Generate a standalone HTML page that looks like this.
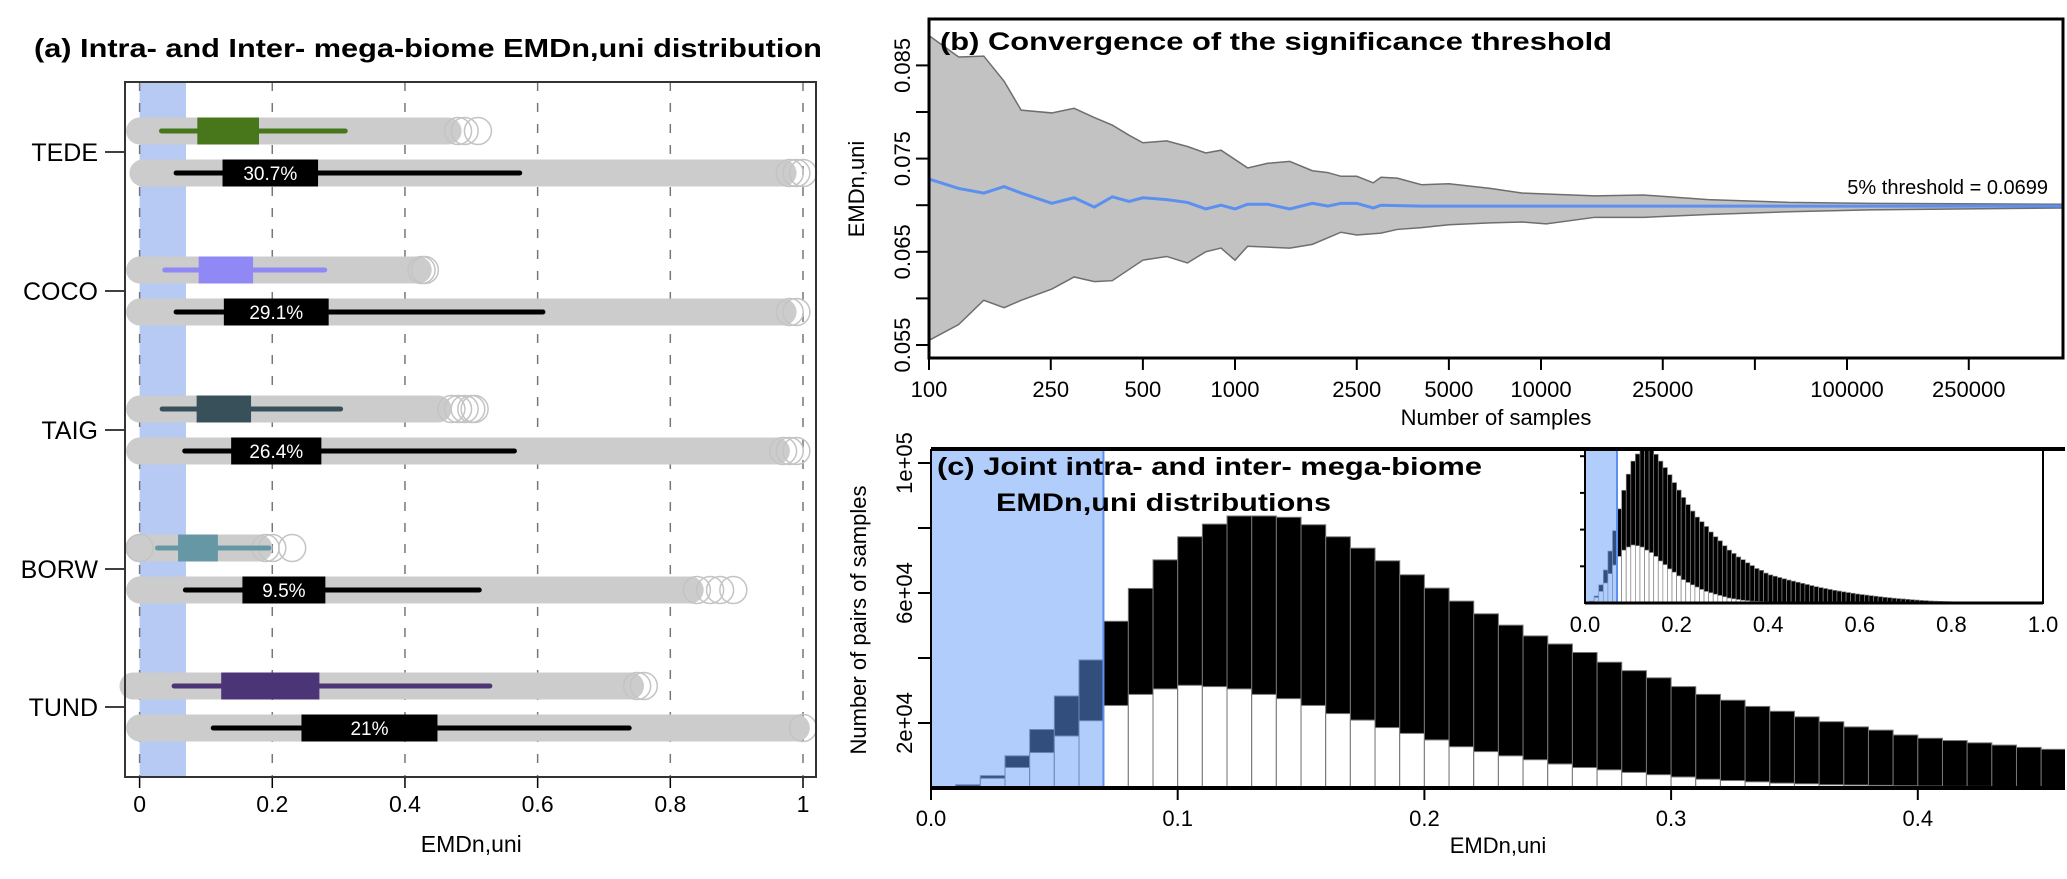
<!DOCTYPE html>
<html><head><meta charset="utf-8"><style>
html,body{margin:0;padding:0;background:#fff;}
svg{display:block;font-family:"Liberation Sans",Arial,sans-serif;}
</style></head><body>
<svg id="fig" width="2067" height="879" viewBox="0 0 2067 879" xmlns="http://www.w3.org/2000/svg">
<defs>
<clipPath id="clipA"><rect x="0" y="0" width="822" height="879"/></clipPath>
<clipPath id="clipB"><rect x="929" y="19" width="1134" height="339"/></clipPath>
<clipPath id="clipC"><rect x="931" y="449" width="1134" height="339"/></clipPath>
<clipPath id="clipI"><rect x="1585" y="450" width="458" height="153"/></clipPath>
</defs>
<g id="panelA"></g>
<g id="panelB"></g>
<g id="panelC"></g>
</svg>
<script>
// ---------- Panel A data ----------
const biomes = ["TEDE","COCO","TAIG","BORW","TUND"];
const intraWhisker = [[0.033,0.310],[0.038,0.279],[0.034,0.303],[0.027,0.195],[0.052,0.528]];
const intraBox = [[0.087,0.180],[0.089,0.171],[0.086,0.168],[0.058,0.118],[0.123,0.271]];
const intraRange = [[0.0,0.465],[0.0,0.42],[0.0,0.45],[0.0,0.18],[-0.01,0.74]];
const intraOutliers = [[0.48,0.49,0.51],[0.425,0.43],[0.47,0.48,0.49,0.5,0.505],[0.0,0.19,0.2,0.23],[0.75,0.76]];
const interWhisker = [[0.055,0.573],[0.055,0.608],[0.068,0.565],[0.069,0.512],[0.111,0.738]];
const interBox = [[0.125,0.269],[0.127,0.285],[0.138,0.274],[0.155,0.280],[0.244,0.449]];
const interRange = [[0.005,0.97],[0.0,0.97],[0.0,0.96],[0.0,0.83],[0.0,0.99]];
const interOutliers = [[0.98,0.99,1.0],[0.98,0.99],[0.97,0.98,0.99],[0.84,0.86,0.875,0.895],[1.0]];
const pctLabels = ["30.7%","29.1%","26.4%","9.5%","21%"];
const biomeColors = ["#47761b","#8f88f5","#37505a","#6598a4","#4c3576"];
const xTicksA = [0,0.2,0.4,0.6,0.8,1];
const xTickLabelsA = ["0","0.2","0.4","0.6","0.8","1"];
const thresholdA = 0.0699;

// ---------- Panel B data ----------
const meanN = [100,125,151,176,200,252,298,347,397,451,500,598,699,802,900,1000,1100,1280,1510,1790,2010,2220,2500,2830,3000,4070,5690,10400,19150,35200,118600,509000];
const meanV = [0.0728,0.0718,0.0713,0.0720,0.0713,0.0702,0.0708,0.0698,0.0709,0.0704,0.0708,0.0706,0.0703,0.0696,0.0700,0.0696,0.0701,0.0701,0.0696,0.0702,0.0699,0.0702,0.0702,0.0697,0.0700,0.0699,0.0699,0.0699,0.0699,0.0699,0.0699,0.0699];
const upperN = [100,125,151,176,200,252,298,347,397,451,500,598,699,802,900,1100,1280,1510,1790,2010,2220,2500,2830,3000,3390,4070,5000,6820,8700,10400,15000,21600,35200,64600,118600,509000];
const upperV = [0.0882,0.0859,0.0860,0.0833,0.0802,0.0799,0.0804,0.0794,0.0786,0.0775,0.0767,0.0769,0.0763,0.0756,0.0759,0.0740,0.0745,0.0747,0.0737,0.0735,0.0731,0.0731,0.0724,0.0730,0.0729,0.0722,0.0723,0.0718,0.0713,0.0712,0.0710,0.0711,0.0706,0.0703,0.0702,0.0701];
const lowerN = [100,125,151,176,200,252,298,347,397,500,598,699,802,900,1000,1100,1510,1790,2220,2500,3000,3390,4070,5000,6820,8700,10400,15000,21600,35200,64600,118600,509000];
const lowerV = [0.0555,0.0572,0.0598,0.0590,0.0598,0.0610,0.0623,0.0618,0.0619,0.0641,0.0645,0.0638,0.0650,0.0654,0.0641,0.0656,0.0654,0.0658,0.0671,0.0668,0.0670,0.0674,0.0676,0.0679,0.0681,0.0682,0.0680,0.0687,0.0687,0.0690,0.0693,0.0695,0.0697];
const xTicksB = [100,250,500,1000,2500,5000,10000,25000,50000,100000,250000];
const xTickLabelsB = ["100","250","500","1000","2500","5000","10000","25000","","100000","250000"];
const yTicksB = [0.055,0.060,0.065,0.070,0.075,0.080,0.085];
const yTickLabelsB = ["0.055","","0.065","","0.075","","0.085"];
const thresholdLabel = "5% threshold = 0.0699";

// ---------- Panel C data ----------
const binWidth = 0.01;
const totalCounts = [200,1000,3800,9900,18000,28300,39400,51300,61400,70200,77300,81200,83700,83700,83300,81000,77300,73800,69900,65600,61500,57500,53600,50100,46800,44300,41700,38700,36100,33900,31200,28800,27000,25100,23600,21900,20400,18800,17800,16300,15300,14600,13900,13200,12500,11900];
const intraCounts = [100,500,3000,6300,10900,16000,20700,25400,28800,30500,31600,31200,30500,28800,27500,25400,22900,20900,18600,16800,14800,12700,11200,9900,8700,7400,6300,5600,4800,4100,3400,2700,2300,1900,1500,1300,1000,900,800,700,600,500,500,400,400,300];
const tailTotal = [11300,10700,10100,9500,8900,8400,7900,7400,6900,6500,6100,5700,5300,4900,4600,4300,4000,3700,3400,3100,2900,2600,2400,2200,2000,1800,1600,1400,1300,1100,1000,900,800,700,600,500,400,350,300,250,200,150,120,100,80,60,50,40,30,20,15,10,5,0];
const tailIntra = [300,250,250,200,200,150,150,120,100,100,80,80,70,60,60,50,50,40,40,30,30,30,20,20,20,20,10,10,10,10,10,10,5,5,5,5,5,5,0,0,0,0,0,0,0,0,0,0,0,0,0,0,0,0];
const xTicksC = [0,0.1,0.2,0.3,0.4];
const xTickLabelsC = ["0.0","0.1","0.2","0.3","0.4"];
const yTicksC = [20000,40000,60000,80000,100000];
const yTickLabelsC = ["2e+04","","6e+04","","1e+05"];
const xTicksI = [0,0.2,0.4,0.6,0.8,1.0];
const xTickLabelsI = ["0.0","0.2","0.4","0.6","0.8","1.0"];
const yTicksI = [20000,40000,60000,80000];
const thresholdC = 0.0699;

// ---------- helpers ----------
const NS = "http://www.w3.org/2000/svg";
function mk(parent, tag, attrs, text){
  const e = document.createElementNS(NS, tag);
  for (const k in attrs) e.setAttribute(k, attrs[k]);
  if (text !== undefined) e.textContent = text;
  parent.appendChild(e);
  return e;
}

// ================= PANEL A =================
(function(){
  const g = document.getElementById('panelA');
  const L=125, R=816, T=82, B=777;
  const xa = v => 139.6 + v*663.4;
  const rowY = [152,291,430,569,707];
  let e;
  e = mk(g,'text',{x:34,y:57,'font-size':26,'font-weight':'bold',textLength:805,lengthAdjust:'spacingAndGlyphs','clip-path':'url(#clipA)'},"(a) Intra- and Inter- mega-biome EMDn,uni distributions");
  
  
  e = mk(g,'rect',{x:xa(0),y:T,width:xa(thresholdA)-xa(0),height:B-T,fill:'#b6caf3'});
  
  
  xTicksA.forEach((t,i)=>{
    e = mk(g,'line',{x1:xa(t),x2:xa(t),y1:T,y2:B,stroke:'#777','stroke-width':1.5,'stroke-dasharray':'9,12'});
    
    
    e = mk(g,'line',{x1:xa(t),x2:xa(t),y1:B,y2:B+11,stroke:'#000','stroke-width':1.5});
    
    
    e = mk(g,'text',{x:xa(t),y:812,'font-size':23,'text-anchor':'middle'},xTickLabelsA[i]);
    
    
  });
  const r = 13.5;
  function drawRow(y, range, outl, wh, bx, col, label){
    e = mk(g,'rect',{x:xa(range[0])-r,y:y-r,width:xa(range[1])-xa(range[0])+2*r,height:2*r,rx:r,fill:'#cccccc'});
    
    
    outl.forEach(o=>{
      e = mk(g,'circle',{cx:xa(o),cy:y,r:r,fill:'none',stroke:'#c4c4c4','stroke-width':1.5});
      
      
    });
    e = mk(g,'line',{x1:xa(wh[0]),x2:xa(wh[1]),y1:y,y2:y,stroke:col,'stroke-width':5,'stroke-linecap':'round'});
    
    
    e = mk(g,'rect',{x:xa(bx[0]),y:y-r,width:xa(bx[1])-xa(bx[0]),height:2*r,fill:col});
    
    
    if (label){
      e = mk(g,'text',{x:(xa(bx[0])+xa(bx[1]))/2,y:y+7,'font-size':19,fill:'#fff','text-anchor':'middle'},label);
      
      
    }
  }
  biomes.forEach((b,i)=>{
    const c = rowY[i];
    drawRow(c-21, intraRange[i], intraOutliers[i], intraWhisker[i], intraBox[i], biomeColors[i], null);
    drawRow(c+21, interRange[i], interOutliers[i], interWhisker[i], interBox[i], '#000', pctLabels[i]);
    e = mk(g,'line',{x1:105,x2:L,y1:c,y2:c,stroke:'#000','stroke-width':1.5});
    
    
    e = mk(g,'text',{x:98,y:c+9,'font-size':25,'text-anchor':'end'},b);
    
    
  });
  e = mk(g,'rect',{x:L,y:T,width:R-L,height:B-T,fill:'none',stroke:'#333','stroke-width':2});
  
  
  e = mk(g,'text',{x:xa(0.5),y:852,'font-size':23,'text-anchor':'middle'},"EMDn,uni");
  
  
})();

// ================= PANEL B =================
(function(){
  const g = document.getElementById('panelB');
  const L=929, R=2063, T=19, B=358;
  const xb = n => 929 + (Math.log10(n)-2)*306;
  const yb = v => 345 - (v-0.055)*9320;
  let e;
  let pts = upperN.map((n,i)=>xb(n)+','+yb(upperV[i]));
  for (let i=lowerN.length-1;i>=0;i--) pts.push(xb(lowerN[i])+','+yb(lowerV[i]));
  e = mk(g,'polygon',{points:pts.join(' '),fill:'#c2c2c2',stroke:'#6e6e6e','stroke-width':1.5,'clip-path':'url(#clipB)'});
  
  
  e = mk(g,'polyline',{points:meanN.map((n,i)=>xb(n)+','+yb(meanV[i])).join(' '),fill:'none',stroke:'#5b8ff0','stroke-width':3,'clip-path':'url(#clipB)'});
  
  
  e = mk(g,'rect',{x:L,y:T,width:R-L,height:B-T,fill:'none',stroke:'#000','stroke-width':3});
  
  
  xTicksB.forEach((t,i)=>{
    e = mk(g,'line',{x1:xb(t),x2:xb(t),y1:B,y2:B+12,stroke:'#000','stroke-width':2});
    
    
    if (xTickLabelsB[i]){
      e = mk(g,'text',{x:xb(t),y:397,'font-size':22,'text-anchor':'middle'},xTickLabelsB[i]);
      
      
    }
  });
  yTicksB.forEach((t,i)=>{
    e = mk(g,'line',{x1:L-13,x2:L,y1:yb(t),y2:yb(t),stroke:'#000','stroke-width':2});
    
    
    if (yTickLabelsB[i]){
      e = mk(g,'text',{x:0,y:0,'font-size':22,'text-anchor':'middle',transform:'translate(910,'+yb(t)+') rotate(-90)'},yTickLabelsB[i]);
      
      
    }
  });
  e = mk(g,'text',{x:940,y:50,'font-size':25,'font-weight':'bold',textLength:672,lengthAdjust:'spacingAndGlyphs'},"(b) Convergence of the significance threshold");
  
  
  e = mk(g,'text',{x:2048,y:194,'font-size':20,'text-anchor':'end'},thresholdLabel);
  
  
  e = mk(g,'text',{x:1496,y:425,'font-size':22,'text-anchor':'middle'},"Number of samples");
  
  
  e = mk(g,'text',{x:0,y:0,'font-size':22,'text-anchor':'middle',transform:'translate(864,189) rotate(-90)'},"EMDn,uni");
  
  
})();

// ================= PANEL C =================
(function(){
  const g = document.getElementById('panelC');
  const L=931, R=2065, T=449, B=788;
  const xc = v => 931 + v*2467;
  const yc = v => 788 - v*130/40000;
  let e;
  const gb = mk(g,'g',{'clip-path':'url(#clipC)'});
  
  
  totalCounts.forEach((tot,i)=>{
    const x0 = xc(i*binWidth), w = xc((i+1)*binWidth)-x0;
    e = mk(gb,'rect',{x:x0,y:yc(tot),width:w,height:yc(0)-yc(tot),fill:'#000',stroke:'#777','stroke-width':1});
    
    
    e = mk(gb,'rect',{x:x0,y:yc(intraCounts[i]),width:w,height:yc(0)-yc(intraCounts[i]),fill:'#fff',stroke:'#777','stroke-width':1});
    
    
  });
  e = mk(gb,'rect',{x:xc(0),y:T,width:xc(thresholdC)-xc(0),height:B-T,fill:'rgba(100,155,250,0.5)'});
  
  
  e = mk(gb,'line',{x1:xc(thresholdC),x2:xc(thresholdC),y1:T,y2:B,stroke:'#5b8ff0','stroke-width':2});
  
  
  // frame
  e = mk(g,'line',{x1:L,x2:R,y1:T,y2:T,stroke:'#000','stroke-width':4});
  
  
  e = mk(g,'line',{x1:L,x2:R,y1:B,y2:B,stroke:'#000','stroke-width':4});
  
  
  e = mk(g,'line',{x1:L,x2:L,y1:T,y2:B,stroke:'#000','stroke-width':2});
  
  
  xTicksC.forEach((t,i)=>{
    e = mk(g,'line',{x1:xc(t),x2:xc(t),y1:B,y2:B+12,stroke:'#000','stroke-width':2});
    
    
    e = mk(g,'text',{x:xc(t),y:826,'font-size':22,'text-anchor':'middle'},xTickLabelsC[i]);
    
    
  });
  yTicksC.forEach((t,i)=>{
    e = mk(g,'line',{x1:L-13,x2:L,y1:yc(t),y2:yc(t),stroke:'#000','stroke-width':2});
    
    
    if (yTickLabelsC[i]){
      e = mk(g,'text',{x:0,y:0,'font-size':22,'text-anchor':'middle',transform:'translate(912,'+yc(t)+') rotate(-90)'},yTickLabelsC[i]);
      
      
    }
  });
  e = mk(g,'text',{x:937,y:475,'font-size':25,'font-weight':'bold',textLength:545,lengthAdjust:'spacingAndGlyphs'},"(c) Joint intra- and inter- mega-biome");
  
  
  e = mk(g,'text',{x:996,y:511,'font-size':25,'font-weight':'bold',textLength:335,lengthAdjust:'spacingAndGlyphs'},"EMDn,uni distributions");
  
  
  e = mk(g,'text',{x:1498,y:853,'font-size':22,'text-anchor':'middle'},"EMDn,uni");
  
  
  e = mk(g,'text',{x:0,y:0,'font-size':22,'text-anchor':'middle',transform:'translate(866,620) rotate(-90)'},"Number of pairs of samples");
  
  

  // ----- inset -----
  const IL=1585, IR=2043, IT=450, IB=603;
  const xi = v => IL + v*458;
  const yi = v => IB - v*36.7/20000;
  const allTot = totalCounts.concat(tailTotal);
  const allIntra = intraCounts.concat(tailIntra);
  e = mk(g,'rect',{x:IL,y:IT,width:IR-IL,height:IB-IT,fill:'#fff'});
  
  
  const gi = mk(g,'g',{'clip-path':'url(#clipI)'});
  
  
  allTot.forEach((tot,i)=>{
    const x0 = xi(i*binWidth), w = xi((i+1)*binWidth)-x0;
    e = mk(gi,'rect',{x:x0,y:yi(tot),width:w,height:yi(0)-yi(tot),fill:'#000',stroke:'#888','stroke-width':0.7});
    
    
    e = mk(gi,'rect',{x:x0,y:yi(allIntra[i]),width:w,height:yi(0)-yi(allIntra[i]),fill:'#fff',stroke:'#888','stroke-width':0.7});
    
    
  });
  e = mk(gi,'rect',{x:xi(0),y:IT,width:xi(thresholdC)-xi(0),height:IB-IT,fill:'rgba(100,155,250,0.5)'});
  
  
  e = mk(gi,'line',{x1:xi(thresholdC),x2:xi(thresholdC),y1:IT,y2:IB,stroke:'#5b8ff0','stroke-width':2});
  
  
  e = mk(g,'polyline',{points:`${IL},${IT} ${IR},${IT} ${IR},${IB} ${IL},${IB} ${IL},${IT}`,fill:'none',stroke:'#000','stroke-width':2});
  
  
  e = mk(g,'line',{x1:IL,x2:IR,y1:IB,y2:IB,stroke:'#000','stroke-width':3});
  
  
  yTicksI.forEach(t=>{
    e = mk(g,'line',{x1:IL-5,x2:IL,y1:yi(t),y2:yi(t),stroke:'#000','stroke-width':2});
    
    
  });
  xTicksI.forEach((t,i)=>{
    e = mk(g,'text',{x:xi(t),y:632,'font-size':22,'text-anchor':'middle'},xTickLabelsI[i]);
    
    
  });
  // cover anything past the page edge in inset label row
})();
</script>
</body></html>
